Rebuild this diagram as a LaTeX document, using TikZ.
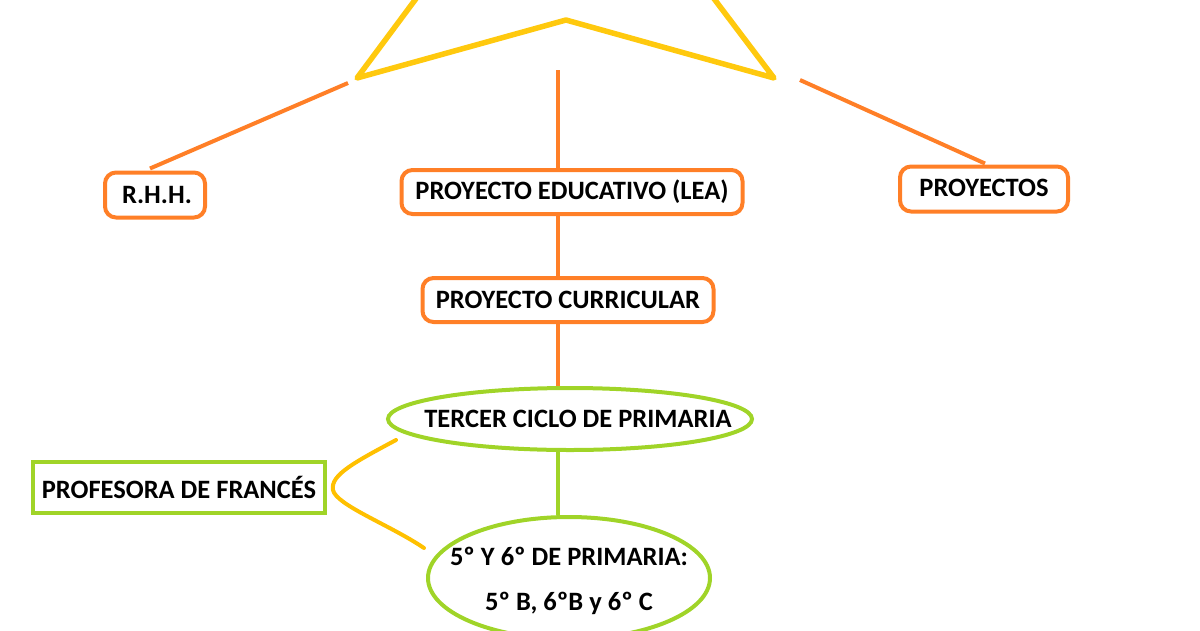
\documentclass[tikz,border=0pt]{standalone}
\usepackage{fontspec}
\setmainfont{Carlito}
\usetikzlibrary{shapes.geometric,calc}
\definecolor{org}{RGB}{255,127,39}
\definecolor{gold}{RGB}{255,201,14}
\definecolor{amber}{RGB}{255,192,0}
\definecolor{lime}{RGB}{160,212,40}
\tikzset{
  lbl/.style={font=\fontsize{26.5}{32}\selectfont\bfseries, text=black},
  obox/.style={lbl, draw=org, line width=4pt, rounded corners=11pt, inner sep=0pt},
  gell/.style={lbl, draw=lime, line width=4pt, ellipse, inner sep=0pt},
  gbox/.style={lbl, draw=lime, line width=4pt, inner sep=0pt},
  oline/.style={draw=org, line width=4pt},
  gline/.style={draw=lime, line width=4pt},
  tri/.style={draw=gold, line width=5.5pt, line join=round},
}
\begin{document}
\begin{tikzpicture}[x=1pt,y=-1pt]
\useasboundingbox (0,0) rectangle (1200,630);
\begin{scope}
\clip (0,0) rectangle (1200,630);
% triangle shape at the top
\coordinate (tA) at (357,78);
\coordinate (tP) at (566,20);
\coordinate (tB) at (774,78);
\draw[tri] ($(tA)!1.5!(415,0)$) -- (tA) -- (tP) -- (tB) -- ($(tB)!1.5!(715,0)$);
\end{scope}
% boxes
\node[obox, minimum width=100, minimum height=45] (rhh) at (155,195) {\hspace*{4pt}R.H.H.};
\node[obox, minimum width=341, minimum height=44] (pe) at (572,192) {PROYECTO EDUCATIVO (LEA)};
\node[obox, minimum width=168, minimum height=45] (pr) at (984,189) {\raisebox{3pt}{PROYECTOS}};
\node[obox, minimum width=291, minimum height=44] (pc) at (568,300) {PROYECTO CURRICULAR};
\node[gell, minimum width=364, minimum height=62] (tc) at (570,419) {\makebox[0pt]{\hspace*{16pt}TERCER CICLO DE PRIMARIA}};
\node[gell, minimum width=282, minimum height=122] (pp) at (569,578) {};
\node[lbl, align=center, inner sep=0pt] (pptext) at ($(pp.center)+(0,3)$)
  {5º Y 6º DE PRIMARIA:\\[13pt]5º B, 6ºB y 6º C};
\node[gbox, minimum width=292, minimum height=51] (pf) at (179,487) {PROFESORA DE FRANCÉS};
% connectors
\coordinate (l1) at (348,83);
\coordinate (m1) at (558,70);
\coordinate (r1) at (800,80);
\draw[oline] (l1) -- ($(rhh.north)+(-5,-2)$);
\draw[oline] (m1) -- (pe.north -| m1);
\draw[oline] (r1) -- ($(pr.north)+(1,-1)$);
\draw[oline] (pe.south -| m1) -- (pc.north -| m1);
\draw[oline] (pc.south -| m1) -- (tc.north -| m1);
\draw[gline] (tc.south -| m1) -- (pp.north -| m1);
\coordinate (c1) at (396,440);
\coordinate (c2) at (424,548);
\draw[amber, line width=4pt, line cap=round] (c1) .. controls (355,462) and (330,475) .. (333,490)
  .. controls (336,505) and (390,525) .. (c2);
\end{tikzpicture}
\end{document}
